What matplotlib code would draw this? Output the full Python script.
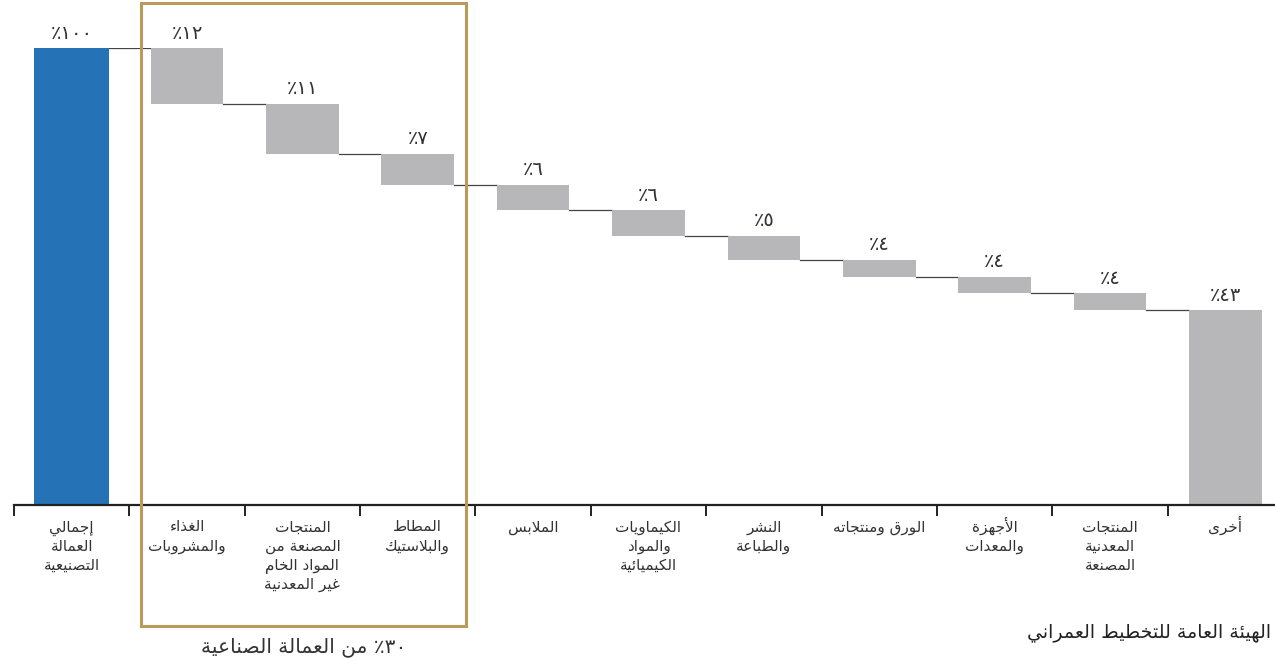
"""Waterfall of manufacturing employment by sector (Arabic labels)."""

import matplotlib
matplotlib.use("Agg")  # headless, no display
import matplotlib.pyplot as plt  # noqa: E402
import matplotlib.transforms as mtransforms  # noqa: E402
from matplotlib.patches import Rectangle  # noqa: E402

# --- data -----------------------------------------------------------------
total_label = "إجمالي\nالعمالة\nالتصنيعية"
total_share = 100.0

sector_labels = [
    "الغذاء\nوالمشروبات",
    "المنتجات\nالمصنعة من\nالمواد الخام\nغير المعدنية",
    "المطاط\nوالبلاستيك",
    "الملابس",
    "الكيماويات\nوالمواد\nالكيميائية",
    "النشر\nوالطباعة",
    "الورق ومنتجاته",
    "الأجهزة\nوالمعدات",
    "المنتجات\nالمعدنية\nالمصنعة",
]
sector_shares = [12.2, 10.9, 6.8, 5.6, 5.6, 5.2, 3.7, 3.6, 3.8]

other_label = "أخرى"
highlight_count = 3  # first sectors inside the framed group
highlight_caption = "٪ من العمالة الصناعية"
source_text = "الهيئة العامة للتخطيط العمراني"

BLUE = "#2573b6"
GREY = "#b7b7b9"
GOLD = "#b99a5a"
INK = "#333333"


# --- minimal Arabic shaping (matplotlib does no joining / RTL) -------------
_DUAL = set("ئبتثجحخسشصضطظعغفقكلمنهي")
_FORMS = {}
_code = 0xFE80
for _ch in "ءآأؤإئابةتثجحخدذرزسشصضطظعغفقكلمنهوىي":
    _n = 1 if _ch == "ء" else (4 if _ch in _DUAL else 2)
    _FORMS[_ch] = _code
    _code += _n
_LAM_ALEF = {"آ": 0xFEF5, "أ": 0xFEF7, "إ": 0xFEF9, "ا": 0xFEFB}
_DIGITS = str.maketrans("0123456789", "٠١٢٣٤٥٦٧٨٩")


def _joins(ch):
    return ch in _FORMS and ch != "ء"


def _shape_line(text):
    out = []
    i = 0
    prev_joins = False  # previous glyph connects forward
    while i < len(text):
        ch = text[i]
        nxt = text[i + 1] if i + 1 < len(text) else ""
        if ch == "ل" and nxt in _LAM_ALEF:
            out.append(chr(_LAM_ALEF[nxt] + (1 if prev_joins else 0)))
            prev_joins = False
            i += 2
            continue
        if ch not in _FORMS:
            out.append(ch)
            prev_joins = False
            i += 1
            continue
        base = _FORMS[ch]
        if ch == "ء":
            out.append(chr(base))
            prev_joins = False
            i += 1
            continue
        fwd = ch in _DUAL and _joins(nxt)
        if prev_joins and fwd:
            off = 3
        elif prev_joins:
            off = 1
        elif fwd:
            off = 2
        else:
            off = 0
        out.append(chr(base + off))
        prev_joins = fwd
        i += 1
    # visual order: reverse, but keep digit runs left-to-right
    vis = "".join(reversed(out))
    res, run = [], []
    for ch in vis:
        if ch in "٠١٢٣٤٥٦٧٨٩":
            run.append(ch)
        else:
            res.extend(reversed(run))
            run = []
            res.append(ch)
    res.extend(reversed(run))
    return "".join(res)


def rtl(text):
    return "\n".join(_shape_line(line) for line in text.split("\n"))


def pct(value):
    return rtl(f"{round(value)}".translate(_DIGITS) + "٪")


# --- figure ---------------------------------------------------------------
plt.rcParams["font.family"] = ["DejaVu Sans"]

fig = plt.figure(figsize=(12.75, 6.65), dpi=100)
ax = fig.add_axes([14 / 1275, 1 - 505 / 665, 1269 / 1275, 456.7 / 665])

other_share = total_share - sum(sector_shares)
labels = [total_label] + sector_labels + [other_label]
n = len(labels)


def value_label(x, y, value):
    ax.annotate(pct(value), (x, y), xytext=(0, 4),
                textcoords="offset points", ha="center", va="bottom",
                fontsize=14, color=INK)


bar_w = 0.63
ax.bar(0, total_share, width=0.65, color=BLUE, zorder=2)
value_label(0, total_share, total_share)

level = total_share
prev_right = 0.65 / 2
for i, share in enumerate(sector_shares, start=1):
    ax.plot([prev_right, i - bar_w / 2], [level, level], color="#444444",
            lw=0.9, zorder=1)
    ax.bar(i, share, bottom=level - share, width=bar_w, color=GREY, zorder=2)
    value_label(i, level, share)
    level -= share
    prev_right = i + bar_w / 2

last = n - 1
ax.plot([prev_right, last - bar_w / 2], [level, level], color="#444444",
        lw=0.9, zorder=1)
ax.bar(last, other_share, width=bar_w, color=GREY, zorder=2)
value_label(last, other_share, other_share)

ax.set_xlim(-0.5, n - 0.5)
ax.set_ylim(0, total_share)
for side in ("top", "left", "right"):
    ax.spines[side].set_visible(False)
ax.spines["bottom"].set_color("#222222")
ax.spines["bottom"].set_linewidth(1.6)
ax.set_yticks([])

# category names, one text per line so every baseline lines up
ax.set_xticks([x - 0.5 for x in range(n + 1)])
ax.set_xticklabels([])
ax.tick_params(axis="x", length=8, width=1.4, color="#222222",
               direction="out")
line_pitch = 13.8  # points
for i, name in enumerate(labels):
    for k, line in enumerate(name.split("\n")):
        tr = mtransforms.offset_copy(ax.get_xaxis_transform(), fig=fig, x=0,
                                     y=-19 - k * line_pitch, units="points")
        ax.text(i, 0, rtl(line), transform=tr, ha="center", va="baseline",
                fontsize=11, color=INK)

# frame around the highlighted group, caption below it
blend = mtransforms.blended_transform_factory(ax.transData, fig.transFigure)
x0, x1 = 0.605, highlight_count + 0.417
ax.add_patch(Rectangle((x0, 1 - 626 / 665), x1 - x0, (626 - 3) / 665,
                       transform=blend, fill=False, edgecolor=GOLD,
                       lw=2.2, clip_on=False, zorder=3))
group_share = sum(sector_shares[:highlight_count])
caption = f"{round(group_share)}".translate(_DIGITS) + highlight_caption
ax.text((x0 + x1) / 2, 1 - 647 / 665, rtl(caption), transform=blend,
        ha="center", va="center", fontsize=14.5, color=INK)

fig.text(1027 / 1275, 1 - 632 / 665, rtl(source_text), ha="left",
         va="center", fontsize=13.6, color="#222222")

fig.savefig("out.png", dpi=100)
plt.close(fig)
